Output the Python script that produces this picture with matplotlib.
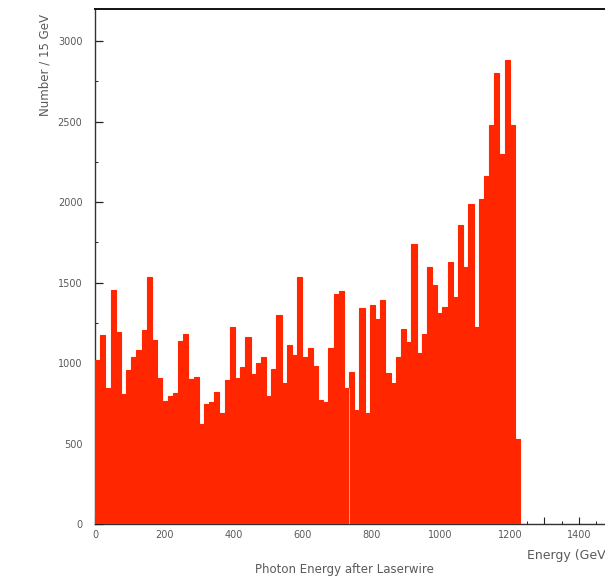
import numpy as np
import matplotlib
matplotlib.use("Agg")
import matplotlib.pyplot as plt
from matplotlib.ticker import MultipleLocator, FuncFormatter

# ---- data (counts per 15 GeV bin) ----
bin_width = 15
counts_a = [1020, 1175, 845, 1455, 1190, 805, 960, 1040, 1080, 1205,
            1535, 1145, 905, 765, 795, 815, 1135, 1180, 900, 915]
counts_b = [620, 745, 755, 820, 690, 895, 1225, 910, 975, 1165,
            935, 1000, 1040, 795, 965, 1300, 875, 1110, 1050, 1535]
counts_c = [1035, 1095, 980, 770, 760, 1095, 1430, 1445, 845, 945,
            710, 1345, 690, 1360, 1275, 1390, 940, 875, 1035, 1210, 1130]
counts_d = [1740, 1060, 1180, 1595, 1485, 1310, 1350, 1630, 1410, 1855,
            1600, 1990, 1225, 2020, 2165, 2480, 2805, 2300, 2880, 2480, 530]
empty_bins = [0] * 18   # 1230 .. 1500 GeV: no entries

counts = np.array(counts_a + counts_b + counts_c + counts_d + empty_bins, dtype=float)
edges = np.arange(len(counts) + 1) * bin_width

x_major = 100
x_minor = 50
y_major = 500
y_minor = 250
x_max = 1500
y_max = 3200

# ---- figure ----
W, H = 605, 577
fig = plt.figure(figsize=(W / 100, H / 100), dpi=100)
left_px, bottom_px, top_px = 95, 524, 9
px_per_gev = 0.3457
right_px = left_px + x_max * px_per_gev
ax = fig.add_axes([left_px / W, (H - bottom_px) / H,
                   (right_px - left_px) / W, (bottom_px - top_px) / H])

red = "#ff2600"
ax.stairs(counts, edges, fill=True, facecolor=red, edgecolor=red,
          linewidth=0.8, baseline=0, zorder=2)
# faint pale seam seen inside the histogram at one bin edge
k = 49
ax.vlines(edges[k], 0, min(counts[k - 1], counts[k]), color="#ffb39f",
          linewidth=0.6, zorder=3)

ax.set_xlim(0, x_max)
ax.set_ylim(0, y_max)

ax.xaxis.set_major_locator(MultipleLocator(x_major))
ax.xaxis.set_minor_locator(MultipleLocator(x_minor))
ax.xaxis.set_major_formatter(FuncFormatter(
    lambda v, p: f"{int(v)}" if int(round(v)) % 200 == 0 else ""))
ax.yaxis.set_major_locator(MultipleLocator(y_major))
ax.yaxis.set_minor_locator(MultipleLocator(y_minor))
ax.yaxis.set_major_formatter(FuncFormatter(lambda v, p: f"{int(v)}"))

label_col = "#5a5a5a"
ax.tick_params(axis="x", which="major", direction="in", length=5, width=0.8,
               pad=4, labelsize=7, labelcolor=label_col, color="#222222")
ax.tick_params(axis="x", which="minor", direction="in", length=2.5, width=0.7,
               color="#222222")
ax.tick_params(axis="y", which="major", direction="in", length=6, width=0.9,
               pad=9, labelsize=7, labelcolor=label_col, color="#222222")
ax.tick_params(axis="y", which="minor", direction="in", length=2.5, width=0.7,
               color="#222222")

ax.spines["top"].set_linewidth(1.4)
ax.spines["top"].set_color("#111111")
ax.spines["left"].set_linewidth(1.0)
ax.spines["left"].set_color("#333333")
ax.spines["bottom"].set_linewidth(1.0)
ax.spines["bottom"].set_color("#333333")
ax.spines["right"].set_visible(False)
for s in ax.spines.values():
    s.set_zorder(1)

fig.text(45 / W, 1 - 65 / H, "Number / 15 GeV", rotation=90,
         ha="center", va="center", fontsize=8.5, color=label_col)
fig.text(527 / W, 1 - 555 / H, "Energy (GeV)", ha="left", va="center",
         fontsize=9, color=label_col)
fig.text(255 / W, 1 - 569 / H, "Photon Energy after Laserwire", ha="left",
         va="center", fontsize=8.5, color=label_col)

fig.savefig("out.png", dpi=100)
